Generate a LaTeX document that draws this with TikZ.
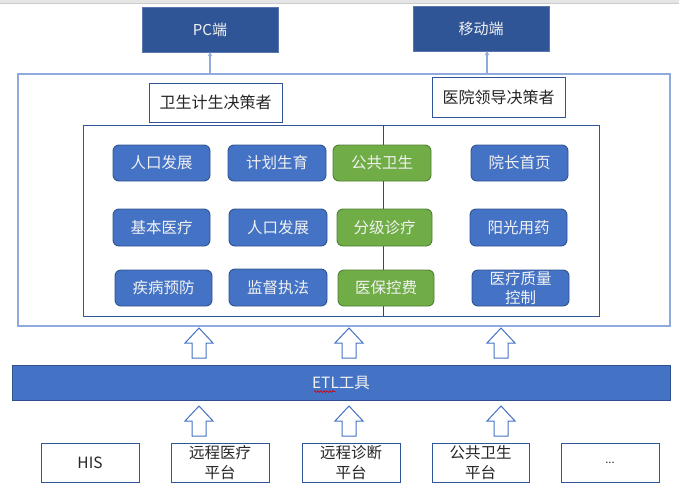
\documentclass[tikz,border=0pt]{standalone}
\usepackage{fontspec}
\setmainfont{Noto Sans CJK SC}
\usetikzlibrary{decorations.pathmorphing,arrows.meta}
\definecolor{dkblue}{HTML}{2F5597}
\definecolor{mblue}{HTML}{4472C4}
\definecolor{bblue}{HTML}{2F528F}
\definecolor{mgreen}{HTML}{70AD47}
\definecolor{bgreen}{HTML}{507E32}
\definecolor{lblue}{HTML}{8FAADC}
\definecolor{txtw}{HTML}{F2F2F2}
\tikzset{
  every node/.style={inner sep=0pt,outer sep=0pt,align=center},
  sz/.style 2 args={minimum width=#1pt,minimum height=#2pt},
  topbox/.style={fill=dkblue,draw=dkblue!80!white,line width=0.8pt,text=txtw,font=\fontsize{15}{18}\selectfont},
  rolebox/.style={fill=white,draw=dkblue,line width=1pt,text=black!85,font=\fontsize{16}{19}\selectfont},
  bluebox/.style={fill=mblue,draw=bblue,line width=0.9pt,rounded corners=6pt,text=txtw,font=\fontsize{15.5}{19}\selectfont},
  greenbox/.style={fill=mgreen,draw=bgreen,line width=0.9pt,rounded corners=6pt,text=txtw,font=\fontsize{15.5}{19}\selectfont},
  srcbox/.style={fill=white,draw=dkblue,line width=0.9pt,text=black!85,font=\fontsize{15.5}{20}\selectfont},
  smallarr/.style={draw=lblue,line width=1.3pt,-{Triangle[length=4pt,width=4pt]}},
  blockarr/.style={draw=mblue,line width=1pt,fill=white,line join=miter},
  pics/uparrow/.style={code={
    \draw[blockarr] (0,0) -- (14,15) -- (7,15) -- (7,30) -- (-7,30) -- (-7,15) -- (-14,15) -- cycle;
  }}
}
\begin{document}
\begin{tikzpicture}[x=1pt,y=-1pt]
\useasboundingbox (0,0) rectangle (679,485);
% top strip
\fill[black!10] (0,0) rectangle (679,3);
\draw[black!20,line width=0.6pt] (0,3) -- (679,3);

% top targets
\node[topbox,sz={136}{45}] (pc) at (210,29.5) {PC端};
\node[topbox,sz={136}{45}] (mob) at (481,28.5) {移动端};

% outer container
\node[draw=lblue,line width=1.3pt,sz={652}{252}] (outer) at (344,200) {};
\coordinate (apc) at (210,74);
\coordinate (amob) at (487,74);
\draw[smallarr] (apc) -- (apc |- pc.south);
\draw[smallarr] (amob) -- (amob |- mob.south);

% roles
\node[rolebox,sz={133}{39}] (r1) at (215.5,102.5) {卫生计生决策者};
\node[rolebox,sz={133}{40}] (r2) at (498.5,97) {医院领导决策者};

% inner container
\node[draw=dkblue,line width=1pt,sz={516}{191}] (inner) at (341,220.5) {};
\coordinate (vtop) at (383,125);
\coordinate (vbot) at (383,316);
\draw[draw=dkblue!85!black,line width=1pt] (vtop) -- (vbot);

% row 1
\node[bluebox,sz={97}{36}] (a1) at (161.5,163) {人口发展};
\node[bluebox,sz={98}{36}] (a2) at (277,163) {计划生育};
\node[greenbox,sz={98}{36}] (a3) at (382,163) {公共卫生};
\node[bluebox,sz={97}{36}] (a4) at (519.5,163) {院长首页};
% row 2
\node[bluebox,sz={97}{37}] (b1) at (161.5,227.5) {基本医疗};
\node[bluebox,sz={98}{37}] (b2) at (278,227.5) {人口发展};
\node[greenbox,sz={95}{37}] (b3) at (384.5,227.5) {分级诊疗};
\node[bluebox,sz={97}{37}] (b4) at (518.5,227.5) {阳光用药};
% row 3
\node[bluebox,sz={97}{36}] (c1) at (163.5,288) {疾病预防};
\node[bluebox,sz={98}{37}] (c2) at (278,287.5) {监督执法};
\node[greenbox,sz={96}{36}] (c3) at (386,288) {医保控费};
\node[bluebox,sz={97}{36},font=\fontsize{15.5}{19}\selectfont] (c4) at (520.5,288) {医疗质量\\控制};

% ETL bar
\node[fill=mblue,draw=bblue,line width=1pt,sz={658}{35},text=txtw,font=\fontsize{15.5}{19}\selectfont] (etl) at (341,382.5) {ETL工具};
\coordinate (w1) at (314,391.5);
\coordinate (w2) at (335,391.5);
\draw[red!85!black,line width=0.6pt,decorate,decoration={snake,amplitude=0.9pt,segment length=3pt}] (w1) -- (w2);

% block arrows
\foreach \x in {199,349,501}{
  \pic at (\x,328) {uparrow};
  \pic at (\x,406) {uparrow};
}

% sources
\node[srcbox,sz={98}{39}] (s1) at (90,462.5) {HIS};
\node[srcbox,sz={98}{39}] (s2) at (220,462.5) {远程医疗\\平台};
\node[srcbox,sz={98}{39}] (s3) at (351,462.5) {远程诊断\\平台};
\node[srcbox,sz={97}{39}] (s4) at (480.5,462.5) {公共卫生\\平台};
\node[srcbox,sz={98}{39},font=\fontsize{11}{14}\selectfont] (s5) at (610,462.5) {...};
\end{tikzpicture}
\end{document}
